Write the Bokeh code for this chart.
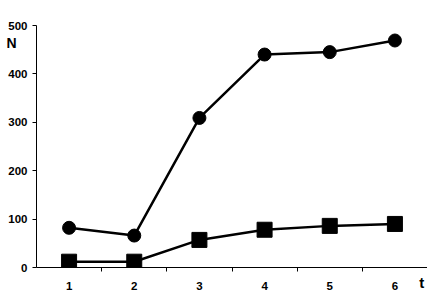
from bokeh.plotting import figure
from bokeh.models import FixedTicker, Label, Range1d
from bokeh.embed import file_html
from bokeh.resources import INLINE

t_values = [1, 2, 3, 4, 5, 6]
tick_labels = ["1", "2", "3", "4", "5", "6"]
circle_series = [82, 66, 309, 440, 445, 469]
square_series = [12, 12, 57, 78, 86, 90]
y_ticks = [0, 100, 200, 300, 400, 500]

FONT = "Liberation Sans"

p = figure(width=427, height=292, output_backend="svg", toolbar_location=None,
           x_range=Range1d(0.5, 6.5), y_range=Range1d(0, 500),
           min_border_left=34, min_border_right=0, min_border_top=25, min_border_bottom=23,
           background_fill_color="white", border_fill_color="white")
p.outline_line_color = None
p.grid.visible = False

# x axis
p.xaxis.ticker = FixedTicker(ticks=t_values, minor_ticks=[1.5, 2.5, 3.5, 4.5, 5.5])
p.xaxis.major_label_overrides = {v: s for v, s in zip(t_values, tick_labels)}
p.xaxis.major_tick_out = 0
p.xaxis.major_tick_in = 0
p.xaxis.minor_tick_out = 4
p.xaxis.minor_tick_in = 0
p.xaxis.minor_tick_line_color = "black"
p.xaxis.major_label_standoff = 10

# y axis
p.yaxis.ticker = FixedTicker(ticks=y_ticks)
p.yaxis.major_tick_out = 4
p.yaxis.major_tick_in = 0
p.yaxis.minor_tick_line_color = None
p.yaxis.major_label_standoff = 5

for ax in (p.xaxis, p.yaxis):
    ax.axis_line_color = "black"
    ax.axis_line_width = 1
    ax.major_tick_line_color = "black"
    ax.major_label_text_font = FONT
    ax.major_label_text_font_style = "bold"
    ax.major_label_text_font_size = "11.5px"
    ax.major_label_text_color = "black"

p.line(t_values, circle_series, line_color="black", line_width=2.5)
p.scatter(t_values, circle_series, marker="circle", size=13, fill_color="black", line_color="black")
p.line(t_values, square_series, line_color="black", line_width=2.5)
p.scatter(t_values, square_series, marker="square", size=15, fill_color="black", line_color="black")

p.add_layout(Label(x=0.118, y=463, text="N", text_font=FONT, text_font_style="bold",
                   text_font_size="14px", text_align="center", text_baseline="middle",
                   text_color="black"), "above")
p.add_layout(Label(x=6.41, y=-31, text="t", text_font=FONT, text_font_style="bold",
                   text_font_size="15px", text_align="center", text_baseline="middle",
                   text_color="black"), "left")

open("out.html", "w").write(file_html(p, INLINE))
